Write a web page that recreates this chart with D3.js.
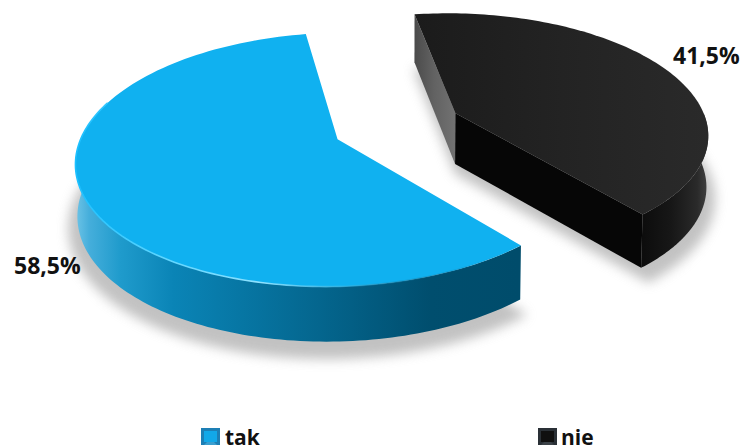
<!DOCTYPE html>
<html>
<head>
<meta charset="utf-8">
<script src="https://cdn.jsdelivr.net/npm/d3@7"></script>
<style>
html,body{margin:0;padding:0;background:#fff;overflow:hidden}
svg{display:block}
text{font-family:"Open Sans","Noto Sans",sans-serif;font-weight:700;fill:#111}
</style>
</head>
<body>
<svg id="chart" width="742" height="447"></svg>
<script>
const categories = ["tak", "nie"];
const shares = [58.5, 41.5];
const shareLabels = ["58,5%", "41,5%"];

// Perspective camera for the tilted disc
const cam = {cx: 398.5, cy: 126, sx: 252.5, sy: 119.5, k: 0.158, depth: 51, explode: 0.25};
const rad = d => d * Math.PI / 180;
const startDeg = 139;
const sliceYaw = [0, 1.5];
const sliceDrift = [-0.012, 0.004];

function project(u, v, z) {
  const w = 1 + cam.k * v;
  return [
    cam.cx + cam.sx * u / w * (1 - 0.006 * z),
    cam.cy - cam.sy * v / w + cam.depth * z / Math.pow(w, 0.4)
  ];
}

const pie = d3.pie().sort(null).startAngle(rad(startDeg)).endAngle(rad(startDeg + 360));
const slices = pie(shares).map((d, i) => {
  const mid = (d.startAngle + d.endAngle) / 2;
  return {
    ...d, name: categories[i], label: shareLabels[i],
    startAngle: d.startAngle + rad(sliceYaw[i]), endAngle: d.endAngle + rad(sliceYaw[i]),
    du: cam.explode * Math.sin(mid) + sliceDrift[i], dv: cam.explode * Math.cos(mid)
  };
});

const pt = (s, a, r, z) => project(s.du + r * Math.sin(a), s.dv + r * Math.cos(a), z);
const arcPts = (s, a0, a1, z, r = 1) => {
  const n = 120;
  return d3.range(n + 1).map(i => pt(s, a0 + (a1 - a0) * i / n, r, z));
};
const line = d3.line();
const closed = pts => line(pts) + "Z";

const svg = d3.select("#chart");
const defs = svg.append("defs");

function gradient(id, x1, x2, stops) {
  const g = defs.append("linearGradient").attr("id", id).attr("gradientUnits", "userSpaceOnUse")
    .attr("x1", x1).attr("x2", x2).attr("y1", 0).attr("y2", 0);
  stops.forEach(([o, c, a]) => g.append("stop").attr("offset", o).attr("stop-color", c)
    .attr("stop-opacity", a === undefined ? 1 : a));
}
gradient("wallBlue", 76, 519, [[0, "#6cc3e6"], [0.03, "#45aedb"], [0.1, "#1f9bcc"], [0.22, "#0a84b6"],
  [0.42, "#06729e"], [0.62, "#035f85"], [0.8, "#004e6e"], [1, "#004c6b"]]);
gradient("rimBlue", 76, 519, [[0, "#1cc0ff"], [0.2, "#5fd6ff"], [0.42, "#8fe2ff"], [0.6, "#30b8ea", 0.7], [0.8, "#0a6f98", 0.3], [1, "#0a6f98", 0]]);
gradient("wallBlack", 638, 712, [[0, "#0b0b0b"], [0.45, "#171717"], [0.8, "#2a2a2a"], [1, "#4a4a4a"]]);
gradient("sideBlack", 412, 456, [[0, "#484848"], [0.5, "#626262"], [1, "#727272"]]);
gradient("topBlack", 413, 711, [[0, "#1b1b1b"], [0.5, "#232323"], [1, "#2a2a2a"]]);

const soft = defs.append("filter").attr("id", "soft")
  .attr("x", "-20%").attr("y", "-20%").attr("width", "140%").attr("height", "140%");
soft.append("feGaussianBlur").attr("stdDeviation", 6);

const [blue, black] = slices;

// Contact shadow under both wedges
const shadow = svg.append("g").attr("filter", "url(#soft)").attr("fill", "#9a9a9a").attr("opacity", 0.6);
slices.forEach(s => {
  const outline = [pt(s, 0, 0, 1.2), ...arcPts(s, s.startAngle, s.endAngle, 1.2, 1.035)];
  shadow.append("path").attr("d", closed(outline));
});

// Blue wedge: outer wall, top face, lit rim
const blueFrontEnd = rad(288);
svg.append("path").attr("fill", "url(#wallBlue)").attr("d", closed([
  ...arcPts(blue, blue.startAngle, blueFrontEnd, 0),
  ...arcPts(blue, blue.startAngle, blueFrontEnd, 1).reverse()
]));
svg.append("path").attr("fill", "#10b1f0").attr("d", closed([
  pt(blue, 0, 0, 0), ...arcPts(blue, blue.startAngle, blue.endAngle, 0)
]));
svg.append("path").attr("fill", "none").attr("stroke", "url(#rimBlue)").attr("stroke-width", 1.6)
  .attr("d", line(arcPts(blue, blue.startAngle, blueFrontEnd, 0)));

// Black wedge: rear cut face, front cut face, outer wall, top face
const blackWallEnd = rad(450);
svg.append("path").attr("fill", "url(#sideBlack)").attr("d", closed([
  pt(black, 0, 0, 0), pt(black, black.startAngle, 1, 0),
  pt(black, black.startAngle, 1, 1), pt(black, 0, 0, 1)
]));
svg.append("path").attr("fill", "#060606").attr("d", closed([
  pt(black, 0, 0, 0), pt(black, black.endAngle, 1, 0),
  pt(black, black.endAngle, 1, 1), pt(black, 0, 0, 1)
]));
svg.append("path").attr("fill", "url(#wallBlack)").attr("d", closed([
  ...arcPts(black, blackWallEnd, black.endAngle, 0),
  ...arcPts(black, blackWallEnd, black.endAngle, 1).reverse()
]));
svg.append("path").attr("fill", "url(#topBlack)").attr("d", closed([
  pt(black, 0, 0, 0), ...arcPts(black, black.startAngle, black.endAngle, 0)
]));

// Value labels
svg.selectAll("text.value").data(slices).join("text").attr("class", "value")
  .attr("x", (d, i) => [14, 673][i]).attr("y", (d, i) => [274, 64][i])
  .attr("font-size", 23).text(d => d.label);

// Legend with bevelled keys
const keyColors = [["#1d7fb5", "#12a8e8", "#3b9fd0"], ["#2a3036", "#101010", "#3c4248"]];
const legend = svg.selectAll("g.key").data(categories).join("g").attr("class", "key")
  .attr("transform", (d, i) => `translate(${[201, 538][i]},428)`);
legend.append("rect").attr("width", 19).attr("height", 17).attr("fill", (d, i) => keyColors[i][0]);
legend.append("rect").attr("x", 3).attr("y", 3).attr("width", 13).attr("height", 11)
  .attr("fill", (d, i) => keyColors[i][1]);
legend.append("path").attr("d", d3.line()([[6, 14], [13, 14], [16, 17], [3, 17]])).attr("fill", (d, i) => keyColors[i][2]);
legend.append("text").attr("x", (d, i) => [24, 23][i]).attr("y", 16.5).attr("font-size", 21).text(d => d);
</script>
</body>
</html>
